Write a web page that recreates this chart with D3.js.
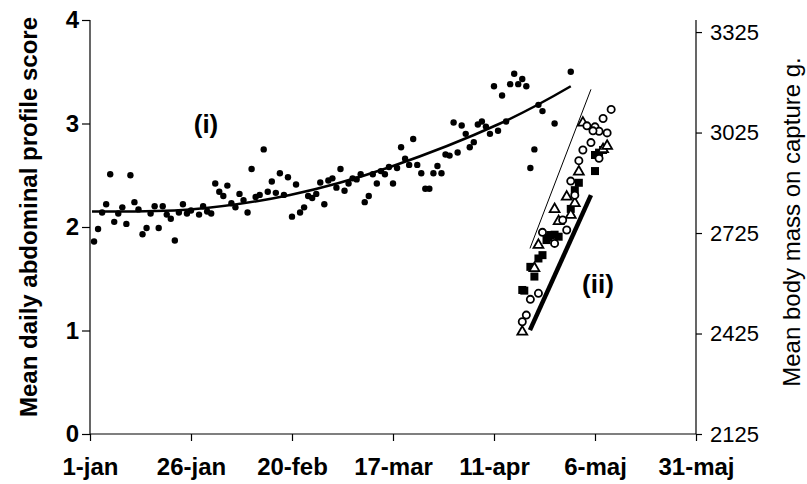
<!DOCTYPE html>
<html>
<head>
<style>
  body { margin: 0; background: #fff; }
  text { font-family: Arial, "Liberation Sans", sans-serif; }
</style>
</head>
<body>
<script src="https://cdn.jsdelivr.net/npm/d3@7"></script>
<script>
// x axis: day of year counted from 1-jan
var tickDays = [0, 25, 50, 75, 100, 125, 150];
var tickLabels = ["1-jan", "26-jan", "20-feb", "17-mar", "11-apr", "6-maj", "31-maj"];
var scoreTicks = [0, 1, 2, 3, 4];
var massTicks = [2125, 2425, 2725, 3025, 3325];

// (i) mean daily abdominal profile score
var scoreDays = [1,2,3,4,5,6,7,8,9,10,11,12,13,14,15,16,17,18,19,20,21,22,23,24,25,
  27,28,29,30,31,32,33,34,35,36,37,38,39,40,41,42,43,44,45,46,47,48,49,50,51,52,
  53,54,55,56,57,58,59,60,61,62,63,64,65,66,67,68,69,70,71,72,73,74,75,76,77,
  78,79,80,81,82,83,84,85,86,87,88,89,90,91,92,93,94,95,96,97,98,99,100,101,102,
  103,104,105,106,107,108,109,110,111,112,115,119];
var scores = [1.86,1.98,2.14,2.22,2.51,2.05,2.13,2.19,2.03,2.50,2.24,2.17,1.93,1.99,2.13,2.20,1.99,2.20,2.12,2.08,1.87,2.14,2.22,2.13,2.16,
  2.12,2.20,2.15,2.13,2.42,2.34,2.30,2.40,2.23,2.19,2.32,2.26,2.14,2.56,2.29,2.31,2.75,2.34,2.44,2.33,2.52,2.31,2.48,2.10,2.41,2.14,
  2.19,2.30,2.28,2.32,2.43,2.22,2.45,2.47,2.38,2.56,2.35,2.42,2.47,2.46,2.51,2.24,2.30,2.51,2.42,2.54,2.51,2.58,2.42,2.57,2.77,
  2.66,2.60,2.85,2.60,2.52,2.37,2.37,2.52,2.59,2.52,2.70,2.69,3.01,2.72,2.98,2.90,2.77,2.82,2.99,3.02,2.97,2.90,3.36,2.93,3.27,
  3.02,3.38,3.48,3.38,3.43,3.36,2.57,2.75,3.18,3.12,3.00,3.50];

// trend curve for (i)
var trendDays = [0.5, 24.75, 49.5, 74.3, 101.5, 119];
var trendScores = [2.15, 2.17, 2.31, 2.58, 3.00, 3.36];

// (ii) mean body mass on capture, three groups
var circleDays = [129,127,128,125,126,123,124,122,126,121,120,117,118,112,115,111,109,108,107,124.5,119];
var circleMass = [3094,3067,3024,3042,3029,3045,2995,2973,2948,2941,2838,2764,2734,2727,2694,2545,2527,2480,2460,3030,2880];
var squareDays = [127,125,125,121,120,119,116,114,113,112,111,109,110,107,107.5,126,115,113.5];
var squareMass = [2973,2958,2910,2875,2853,2797,2714,2719,2704,2659,2649,2624,2595,2555,2553,2965,2720,2712];
var triDays = [122,127,121,118,120,115,119,111,110,107,128,116];
var triMass = [3054,2975,2908,2833,2814,2796,2779,2689,2620,2430,2985,2760];

// regression lines for (ii)
var thinDays = [108.9, 124.0], thinMass = [2679, 3154];
var thickDays = [108.9, 124.0], thickMass = [2435, 2838];

var width = 807, height = 484;
var svg = d3.select("body").append("svg")
    .attr("width", width)
    .attr("height", height);

var x = d3.scaleLinear().domain([0, 150]).range([90, 696]);
var y = d3.scaleLinear().domain([0, 4]).range([434, 20]);
var y2 = d3.scaleLinear().domain([2125, 3361]).range([434, 20]);

// axes
var xAxis = svg.append("g").attr("transform", "translate(0,434)")
    .call(d3.axisBottom(x).tickValues(tickDays).tickSize(7).tickFormat(function(d, i) { return tickLabels[i]; }));
xAxis.select(".domain").attr("d", "M90,0H696");
xAxis.selectAll("text").attr("y", 41).attr("dy", 0)
    .style("font-family", "'Liberation Sans Narrow', 'Arial Narrow', Arial, sans-serif")
    .style("font-size", "24px").style("font-weight", "bold");

var yAxis = svg.append("g").attr("transform", "translate(90,0)")
    .call(d3.axisLeft(y).tickValues(scoreTicks).tickSize(8).tickFormat(d3.format("d")));
yAxis.select(".domain").attr("d", "M0,20V434");
yAxis.selectAll("text").attr("x", -11).style("font-size", "24px").style("font-weight", "bold");

var y2Axis = svg.append("g").attr("transform", "translate(696,0)")
    .call(d3.axisRight(y2).tickValues(massTicks).tickSize(6).tickFormat(d3.format("d")));
y2Axis.select(".domain").attr("d", "M0,20V434");
y2Axis.selectAll("text").attr("x", 14).style("font-size", "22px");
svg.selectAll(".domain, .tick line").attr("stroke", "#000").attr("stroke-width", 1.2);

// axis titles
svg.append("text")
    .attr("transform", "translate(37,217) rotate(-90)")
    .attr("text-anchor", "middle")
    .style("font-size", "24px").style("font-weight", "bold")
    .text("Mean daily abdominal profile score");
svg.append("text")
    .attr("transform", "translate(800,222) rotate(-90)")
    .attr("text-anchor", "middle")
    .style("font-size", "24px")
    .text("Mean body mass on capture g.");

// (i) dots
svg.append("g").selectAll("circle")
    .data(scoreDays)
    .enter().append("circle")
    .attr("cx", function(d) { return x(d); })
    .attr("cy", function(d, i) { return y(scores[i]); })
    .attr("r", 3.2)
    .attr("fill", "#000");

var trend = d3.line()
    .x(function(d) { return x(d); })
    .y(function(d, i) { return y(trendScores[i]); })
    .curve(d3.curveNatural);
svg.append("path").attr("d", trend(trendDays))
    .attr("fill", "none").attr("stroke", "#000").attr("stroke-width", 2.5);

// (ii) lines
var massLine = function(ms) {
  return d3.line().x(function(d) { return x(d); }).y(function(d, i) { return y2(ms[i]); });
};
svg.append("path").attr("d", massLine(thinMass)(thinDays))
    .attr("stroke", "#000").attr("stroke-width", 1);
svg.append("path").attr("d", massLine(thickMass)(thickDays))
    .attr("stroke", "#000").attr("stroke-width", 4.5);

// (ii) markers
svg.append("g").selectAll("rect")
    .data(squareDays)
    .enter().append("rect")
    .attr("x", function(d) { return x(d) - 4; })
    .attr("y", function(d, i) { return y2(squareMass[i]) - 4; })
    .attr("width", 8).attr("height", 8)
    .attr("fill", "#000");

var tri = d3.symbol().type(d3.symbolTriangle).size(42);
svg.append("g").selectAll("path")
    .data(triDays)
    .enter().append("path")
    .attr("d", tri)
    .attr("transform", function(d, i) { return "translate(" + x(d) + "," + y2(triMass[i]) + ")"; })
    .attr("fill", "#fff").attr("stroke", "#000").attr("stroke-width", 1.8);

svg.append("g").selectAll("circle")
    .data(circleDays)
    .enter().append("circle")
    .attr("cx", function(d) { return x(d); })
    .attr("cy", function(d, i) { return y2(circleMass[i]); })
    .attr("r", 3.6)
    .attr("fill", "#fff").attr("stroke", "#000").attr("stroke-width", 1.8);

// labels
svg.append("text").attr("x", 206).attr("y", 133).attr("text-anchor", "middle")
    .style("font-size", "26px").style("font-weight", "bold").text("(i)");
svg.append("text").attr("x", 598).attr("y", 293).attr("text-anchor", "middle")
    .style("font-size", "26px").style("font-weight", "bold").text("(ii)");
</script>
</body>
</html>
